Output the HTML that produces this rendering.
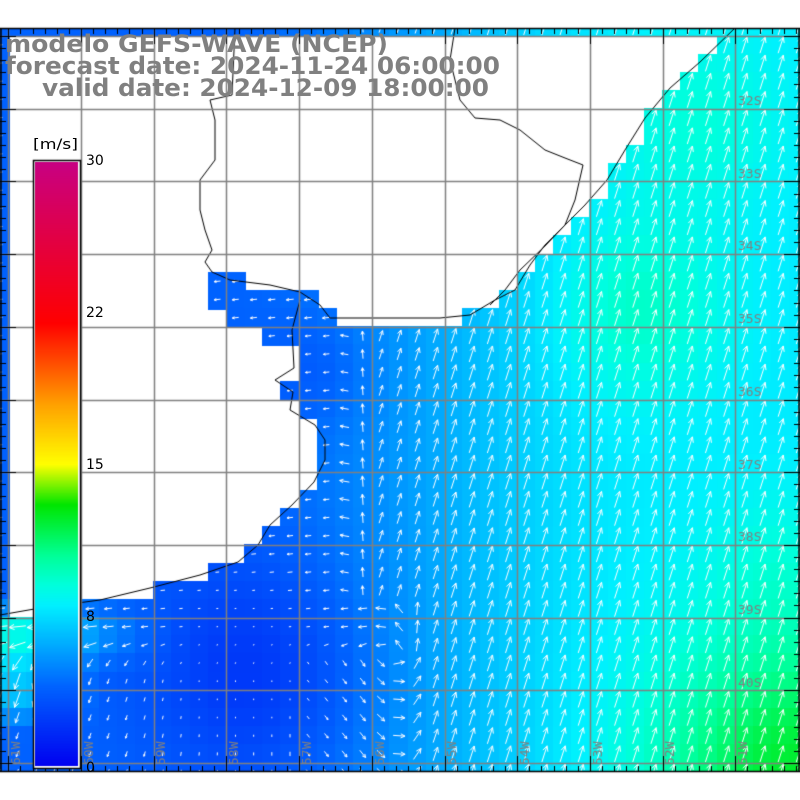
<!DOCTYPE html>
<html><head><meta charset="utf-8"><style>
html,body{margin:0;padding:0;background:#fff;}
#wrap{position:relative;width:800px;height:800px;overflow:hidden;}
canvas,svg{position:absolute;left:0;top:0;}
</style></head><body><div id="wrap">
<canvas id="c" width="800" height="800"></canvas>
<svg id="s" width="800" height="800" xmlns="http://www.w3.org/2000/svg" font-family="DejaVu Sans, Liberation Sans, sans-serif">
<g font-weight="bold" fill="#808080" font-size="24">
<text x="5" y="52" textLength="383" lengthAdjust="spacingAndGlyphs">modelo GEFS-WAVE (NCEP)</text>
<text x="5" y="74" textLength="495" lengthAdjust="spacingAndGlyphs">forecast date: 2024-11-24 06:00:00</text>
<text x="42" y="96" textLength="447" lengthAdjust="spacingAndGlyphs">valid date: 2024-12-09 18:00:00</text>
</g>
<g font-size="14" fill="#000">
<text x="33" y="149" textLength="45" lengthAdjust="spacingAndGlyphs">[m/s]</text>
<text x="86" y="165">30</text>
<text x="86" y="317">22</text>
<text x="86" y="469">15</text>
<text x="86" y="621">8</text>
<text x="86" y="772">0</text>
</g>
</svg>
</div>
<script>
const c=document.getElementById('c'),g=c.getContext('2d');
const T=28,B=772,L=0,R=800,cs=72.7/4,x0=81-5*cs,y0=36-cs;
function sm(a,b,x){let t=Math.min(1,Math.max(0,(x-a)/(b-a)));return t*t*(3-2*t);}
function bump(x,y,cx,cy,r){let d=((x-cx)**2+(y-cy)**2)/(r*r);return Math.exp(-d);}
function spd(x,y){
 let s=3.9+3.9*sm(200,650,x);
 s+=4.5*bump(x,y,800,780,150);
 s+=1.6*bump(x,y,640,310,90);
 s+=1.2*bump(x,y,700,120,90);
 s+=0.8*bump(x,y,780,560,80);
 s-=1.8*bump(x,y,260,670,110);
 s-=0.8*bump(x,y,320,370,60);
 s+=3.0*(1-sm(20,110,x))*sm(600,630,y)*(1-sm(690,740,y));
 s+=1.8*(1-sm(60,200,x))*sm(600,620,y)*(1-sm(640,680,y));
 return Math.max(0.5,s);
}
const stops=[[0,0,0,240],[4,0,100,255],[8,0,240,255],[9,0,255,220],[10.5,0,255,150],[13,0,230,0],[15,255,255,0],[18,255,160,0],[22,255,0,0],[30,200,0,130]];
function col(v){for(let i=0;i<stops.length-1;i++){let a=stops[i],b=stops[i+1];if(v<=b[0]){let t=Math.max(0,(v-a[0])/(b[0]-a[0]));return `rgb(${Math.round(a[1]+(b[1]-a[1])*t)},${Math.round(a[2]+(b[2]-a[2])*t)},${Math.round(a[3]+(b[3]-a[3])*t)})`;}}return 'rgb(200,0,130)';}
const land=[[0,28],[712,28],[722,36],[705,55],[685,75],[660,95],[645,120],[630,150],[612,178],[590,205],[565,230],[545,248],[522,275],[505,292],[490,305],[460,318],[330,318],[318,302],[292,284],[240,282],[220,265],[200,265],[200,298],[222,318],[262,335],[292,345],[292,372],[278,380],[292,400],[292,422],[322,428],[328,452],[315,482],[298,505],[278,525],[258,545],[238,562],[200,577],[150,590],[100,602],[40,610],[18,614],[0,628]];
function inLand(x,y){let ins=false;for(let i=0,j=land.length-1;i<land.length;j=i++){let[xi,yi]=land[i],[xj,yj]=land[j];if(((yi>y)!=(yj>y))&&(x<(xj-xi)*(y-yi)/(yj-yi)+xi))ins=!ins;}return ins;}
g.fillStyle='#fff';g.fillRect(0,0,800,800);
g.save();g.beginPath();g.rect(L,T,R-L,B-T);g.clip();
let cells=[];
for(let yy=y0-cs;yy<B;yy+=cs)for(let xx=x0-cs;xx<R;xx+=cs){
 let cx=xx+cs/2,cy=yy+cs/2;if(inLand(cx,cy))continue;
 let s=spd(cx,cy);g.fillStyle=col(s);g.fillRect(Math.floor(xx),Math.floor(yy),Math.ceil(cs)+1,Math.ceil(cs)+1);cells.push([cx,cy,s]);}
g.strokeStyle='#fff';g.lineWidth=1;
for(const[cx,cy,s]of cells){
 let a0=cy<600?330:360,b0=cy<600?380:440;
 let wN=sm(a0,b0,cx),wS=(1-wN)*sm(630,680,cy),wW=(1-wN)*(1-sm(630,680,cy));
 let u=0.32*wN-1*wW-0.35*wS*(1-sm(100,250,cx)),v=-1*wN+0.1*wW+1*wS;
 if(cx>300&&cx<460&&cy>650){u+=0.8*(1-wN);}
 let n=Math.hypot(u,v)||1;u/=n;v/=n;
 let Ln=Math.min(17,Math.max(1.5,(s-2.3)*4));
 if(cx<340&&cy<600&&cy>330)Ln=Math.min(Ln,6);
 let x1=cx-u*Ln/2,y1=cy-v*Ln/2,x2=cx+u*Ln/2,y2=cy+v*Ln/2;
 g.beginPath();g.moveTo(x1,y1);g.lineTo(x2,y2);
 if(Ln>5){let h=Math.min(6,Ln*0.4);let a=Math.atan2(v,u);
  g.moveTo(x2,y2);g.lineTo(x2-h*Math.cos(a-0.45),y2-h*Math.sin(a-0.45));
  g.moveTo(x2,y2);g.lineTo(x2-h*Math.cos(a+0.45),y2-h*Math.sin(a+0.45));}
 g.stroke();}
g.strokeStyle='#000';g.lineWidth=1;
function pl(a){g.beginPath();g.moveTo(a[0][0],a[0][1]);for(const p of a)g.lineTo(p[0],p[1]);g.stroke();}
pl([[735,28],[700,62],[670,88],[645,118],[625,150],[607,180],[585,205],[560,230],[545,245],[530,265],[515,290],[495,300],[470,315],[440,318],[380,318],[330,318],[320,305],[300,292],[270,285],[230,280],[212,272],[205,262],[212,250],[205,230],[200,210],[200,180],[215,160],[215,120],[210,100],[232,95],[235,28]]);
pl([[300,300],[292,330],[294,368],[275,380],[293,392],[290,410],[315,425],[325,440],[325,460],[314,482],[292,505],[270,525],[258,545],[238,562],[200,575],[150,588],[100,600],[40,608],[0,615]]);
pl([[490,305],[505,290],[520,270],[545,246],[565,225],[575,200],[583,165],[565,158],[545,150],[520,130],[500,120],[475,118],[460,100],[450,60],[455,28]]);
g.strokeStyle='#808080';g.lineWidth=1.5;
for(let k=0;k<11;k++){let x=Math.round(8.3+72.7*k)+.5;g.beginPath();g.moveTo(x,T);g.lineTo(x,B);g.stroke();}
for(let k=0;k<11;k++){let y=Math.round(36+72.7*k)+.5;g.beginPath();g.moveTo(L,y);g.lineTo(R,y);g.stroke();}
g.restore();
g.strokeStyle='#000';g.lineWidth=1.5;
g.beginPath();g.moveTo(0,28.5);g.lineTo(800,28.5);g.moveTo(0,771.5);g.lineTo(800,771.5);g.moveTo(1,28);g.lineTo(1,772);g.moveTo(799,28);g.lineTo(799,772);g.stroke();
g.lineWidth=1;g.beginPath();
for(let k=-1;k<70;k++){let x=Math.round(8.3+72.7/6*k)+.5;if(x<0||x>800)continue;let big=(k%6==0);let l=big?16:6;
 g.moveTo(x,28);g.lineTo(x,28+l);g.moveTo(x,772);g.lineTo(x,772-l);}
for(let k=-1;k<70;k++){let y=Math.round(36+72.7/6*k)+.5;if(y<28||y>772)continue;let big=(k%6==0);let l=big?16:6;
 g.moveTo(0,y);g.lineTo(l,y);g.moveTo(800,y);g.lineTo(800-l,y);}
g.stroke();
g.fillStyle='#808080';g.font='13px "DejaVu Sans Mono","Liberation Mono",monospace';
const lat=['32S','33S','34S','35S','36S','37S','38S','39S','40S'];
for(let i=0;i<lat.length;i++){g.fillText(lat[i],738,105+72.7*i);}
const lon=['61W','60W','59W','58W','57W','56W','55W','54W','53W','52W','51W'];
for(let i=0;i<lon.length;i++){let x=20+72.7*i;g.save();g.translate(x,765);g.rotate(-Math.PI/2);g.fillText(lon[i],0,0);g.restore();}
const cx0=33,cy0=160,cw=47,ch=608;
g.fillStyle='#fff';g.fillRect(cx0,cy0,cw,ch);
for(let y=0;y<ch-4;y++){g.fillStyle=col(30*(1-y/(ch-4)));g.fillRect(cx0+2,cy0+2+y,cw-4,1);}
g.strokeStyle='#000';g.lineWidth=1.5;g.strokeRect(cx0+.5,cy0+.5,cw,ch);
</script>
</body></html>
